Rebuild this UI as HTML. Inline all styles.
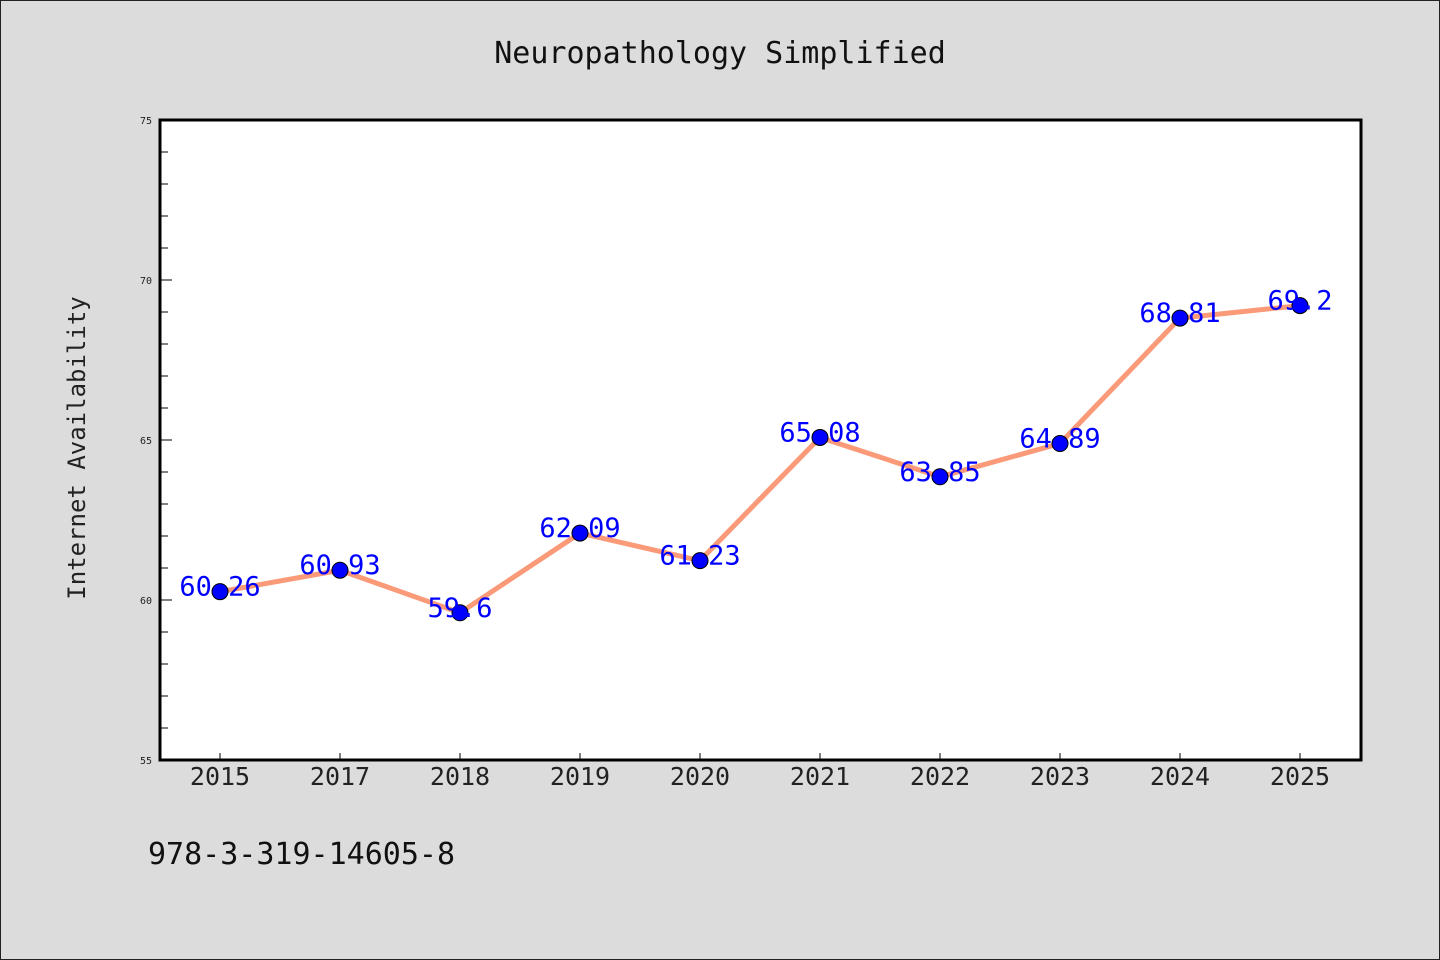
<!DOCTYPE html>
<html><head><meta charset="utf-8"><style>
body{margin:0;background:#dcdcdc;}
svg{display:block;font-family:"DejaVu Sans Mono","Liberation Mono",monospace;}
</style></head><body>
<svg id="chart" width="1440" height="960">
<rect x="0.5" y="0.5" width="1439" height="959" fill="#dcdcdc" stroke="#222"/>
<text x="720" y="63" text-anchor="middle" font-size="30" fill="#111">Neuropathology Simplified</text>
<text transform="translate(85,448) rotate(-90)" text-anchor="middle" font-size="24" fill="#222">Internet Availability</text>
<text x="148" y="864" font-size="30" fill="#111">978-3-319-14605-8</text>
<rect x="160" y="120" width="1201" height="640" fill="#fff"/>
<g id="marks"></g>
<rect x="160" y="120" width="1201" height="640" fill="none" stroke="#000" stroke-width="3"/>
</svg>
<script>
const categories=["2015","2017","2018","2019","2020","2021","2022","2023","2024","2025"];
const values=[60.26,60.93,59.6,62.09,61.23,65.08,63.85,64.89,68.81,69.2];
const valueLabels=["60.26","60.93","59.6","62.09","61.23","65.08","63.85","64.89","68.81","69.2"];
const yTicks=[55,60,65,70,75];
const yMin=55,yMax=75;
const ns="http://www.w3.org/2000/svg";
const g=document.getElementById('marks');
const X=i=>220+i*120;
const Y=v=>760-(v-yMin)/(yMax-yMin)*640;
function mk(t,a){const e=document.createElementNS(ns,t);for(const k in a)e.setAttribute(k,a[k]);g.appendChild(e);return e;}
for(let v=yMin;v<=yMax;v++){
 const major=yTicks.includes(v);
 const l=mk('line',{x1:160,x2:major?172:168,y1:Y(v),y2:Y(v),stroke:'#000','stroke-width':1});
 
 
}
yTicks.forEach(v=>{
 const t=mk('text',{x:152,y:Y(v)+4,'text-anchor':'end','font-size':10,fill:'#222'});t.textContent=v;
 
 
});
categories.forEach((c,i)=>{
 const l=mk('line',{x1:X(i),x2:X(i),y1:760,y2:753,stroke:'#000'});
 
 
 const t=mk('text',{x:X(i),y:785,'text-anchor':'middle','font-size':25,fill:'#222'});t.textContent=c;
 
 
});
const p=mk('polyline',{points:values.map((v,i)=>X(i)+','+Y(v)).join(' '),fill:'none',stroke:'#fa9a78','stroke-width':5,'stroke-linejoin':'round'});


values.forEach((v,i)=>{
 const c=mk('circle',{cx:X(i),cy:Y(v),r:8,fill:'#0000ff',stroke:'#000','stroke-width':1});
 
 
});
values.forEach((v,i)=>{
 const t=mk('text',{x:X(i),y:Y(v)+4,'text-anchor':'middle','font-size':27,fill:'#0000ff'});t.textContent=valueLabels[i];
 
 
});
</script>
</body></html>
